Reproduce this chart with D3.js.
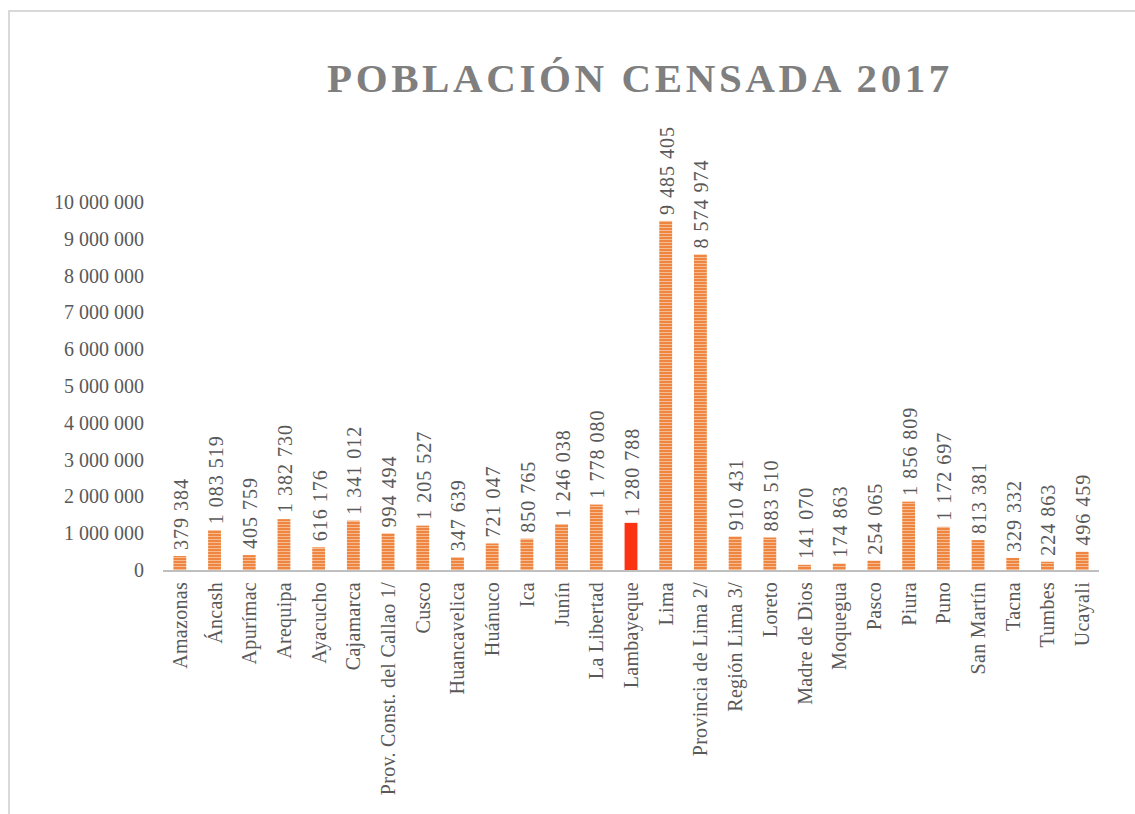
<!DOCTYPE html>
<html>
<head>
<meta charset="utf-8">
<script src="https://cdn.jsdelivr.net/npm/d3@7"></script>
<style>
  html, body { margin: 0; padding: 0; background: #fff; }
  svg { display: block; }
</style>
</head>
<body>
<div id="chart"></div>
<script>
// ── Data ──
const regions = [
  'Amazonas', 'Áncash', 'Apurímac', 'Arequipa', 'Ayacucho', 'Cajamarca',
  'Prov. Const. del Callao 1/', 'Cusco', 'Huancavelica', 'Huánuco', 'Ica',
  'Junín', 'La Libertad', 'Lambayeque', 'Lima', 'Provincia de Lima 2/',
  'Región Lima 3/', 'Loreto', 'Madre de Dios', 'Moquegua', 'Pasco', 'Piura',
  'Puno', 'San Martín', 'Tacna', 'Tumbes', 'Ucayali'
];
const population = [
  379384, 1083519, 405759, 1382730, 616176, 1341012,
  994494, 1205527, 347639, 721047, 850765,
  1246038, 1778080, 1280788, 9485405, 8574974,
  910431, 883510, 141070, 174863, 254065, 1856809,
  1172697, 813381, 329332, 224863, 496459
];
const highlighted = ['Lambayeque'];
const yTicks = [0, 1e6, 2e6, 3e6, 4e6, 5e6, 6e6, 7e6, 8e6, 9e6, 10e6];
const title = 'POBLACIÓN CENSADA 2017';

const data = regions.map((r, i) => ({ region: r, value: population[i] }));

const W = 1135, H = 814;
const plot = { left: 163, right: 1099, top: 202, bottom: 570 };
const serif = '"Liberation Serif", "Times New Roman", serif';

const fmt = d3.formatLocale({ decimal: ',', thousands: ' ', grouping: [3], currency: ['', ''] }).format(',d');

const svg = d3.select('#chart').append('svg')
  .attr('width', W).attr('height', H);

// stripes for bars
const defs = svg.append('defs');
const pat = defs.append('pattern')
  .attr('id', 'stripes').attr('patternUnits', 'userSpaceOnUse')
  .attr('width', 8).attr('height', 3);
pat.append('rect').attr('width', 8).attr('height', 3).attr('fill', '#ee8540');
pat.append('rect').attr('y', 2).attr('width', 8).attr('height', 1).attr('fill', '#f7bb91');

// Frame
svg.append('path')
  .attr('d', `M9,${H} V11 H${W}`)
  .attr('fill', 'none').attr('stroke', '#d9d9d9').attr('stroke-width', 2);

// Title
svg.append('text')
  .attr('x', 640).attr('y', 92)
  .attr('text-anchor', 'middle')
  .attr('fill', '#7f7f7f')
  .style('font-family', serif)
  .style('font-weight', 'bold')
  .style('font-size', '41px')
  .style('letter-spacing', '3.6px')
  .text(title);

const x = d3.scaleBand()
  .domain(regions)
  .range([plot.left, plot.right])
  .paddingInner(0.63).paddingOuter(0.3);

const y = d3.scaleLinear()
  .domain([0, 10e6])
  .range([plot.bottom, plot.top]);

// Y axis labels
const yAxis = svg.append('g')
  .attr('transform', `translate(${plot.left - 19},0)`)
  .call(d3.axisLeft(y).tickValues(yTicks).tickSize(0).tickPadding(0).tickFormat(fmt));
yAxis.select('.domain').remove();
yAxis.selectAll('text')
  .attr('fill', '#595959')
  .style('font-family', serif)
  .style('font-size', '20px');

// Bars
svg.selectAll('.bar')
  .data(data).enter().append('rect')
  .attr('class', 'bar')
  .attr('x', d => x(d.region))
  .attr('y', d => y(d.value))
  .attr('width', x.bandwidth())
  .attr('height', d => y(0) - y(d.value))
  .attr('fill', d => highlighted.includes(d.region) ? '#fb3312' : 'url(#stripes)');

// Baseline
svg.append('line')
  .attr('x1', plot.left).attr('x2', plot.right)
  .attr('y1', y(0) + 1).attr('y2', y(0) + 1)
  .attr('stroke', '#bfbfbf').attr('stroke-width', 2);

// Value labels
svg.selectAll('.val')
  .data(data).enter().append('text')
  .attr('class', 'val')
  .attr('transform', d => `translate(${x(d.region) + x.bandwidth() / 2 + 8},${y(d.value) - 6}) rotate(-90)`)
  .attr('text-anchor', 'start')
  .attr('fill', '#595959')
  .style('font-family', serif)
  .style('font-size', '20px')
  .style('letter-spacing', '1px')
  .text(d => fmt(d.value));

// Category labels
svg.selectAll('.cat')
  .data(regions).enter().append('text')
  .attr('class', 'cat')
  .attr('transform', d => `translate(${x(d) + x.bandwidth() / 2 + 7},${plot.bottom + 12}) rotate(-90)`)
  .attr('text-anchor', 'end')
  .attr('fill', '#595959')
  .style('font-family', serif)
  .style('font-size', '20px')
  .style('letter-spacing', '0.3px')
  .text(d => d);
</script>
</body>
</html>
